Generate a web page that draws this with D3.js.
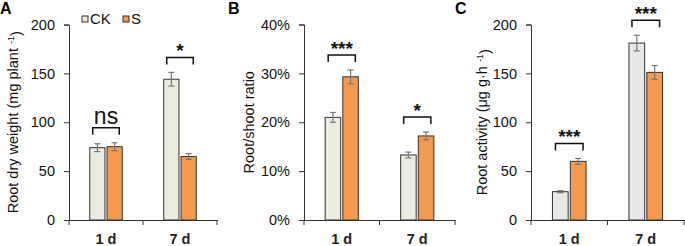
<!DOCTYPE html>
<html>
<head>
<meta charset="utf-8">
<script src="https://cdn.jsdelivr.net/npm/d3@7"></script>
<style>
  body { margin: 0; background: #fff; }
  svg { font-family: 'Liberation Sans', Arial, sans-serif; }
</style>
</head>
<body>
<div id="chart"></div>
<script>
// categories
const days = ['1 d', '7 d']
const groups = ['CK', 'S']

// A: root dry weight (mg plant-1)
const weightCK = [74, 144]
const weightS = [75, 65]
const weightCKErr = [4, 7]
const weightSErr = [4, 3]
const weightSig = ['ns', '*']
const weightTicks = [0, 50, 100, 150, 200]

// B: root/shoot ratio
const ratioCK = [0.21, 0.133]
const ratioS = [0.293, 0.172]
const ratioCKErr = [0.01, 0.006]
const ratioSErr = [0.014, 0.008]
const ratioSig = ['***', '*']
const ratioTicks = [0, 0.1, 0.2, 0.3, 0.4]

// C: root activity (ug g-1 h-1)
const activityCK = [29, 181]
const activityS = [60, 151]
const activityCKErr = [1, 8]
const activitySErr = [3, 7]
const activitySig = ['***', '***']
const activityTicks = [0, 50, 100, 150, 200]

const width = 685
const height = 246

const svg = d3.select('#chart').append('svg')
  .attr('width', width)
  .attr('height', height)

const panels = [
  {
    letter: 'A', left: 69, right: 217, lx: 0, labelX: 13,
    ck: weightCK, s: weightS, ckErr: weightCKErr, sErr: weightSErr, sig: weightSig,
    ticks: weightTicks, max: 200, fmt: d => d, ckFill: '#ebebdf',
    label: ['Root dry weight (mg plant ', '-1', ')'], legend: true
  },
  {
    letter: 'B', left: 304, right: 455, lx: 228, labelX: 249,
    ck: ratioCK, s: ratioS, ckErr: ratioCKErr, sErr: ratioSErr, sig: ratioSig,
    ticks: ratioTicks, max: 0.4, fmt: d3.format('.0%'), ckFill: '#ebebdf',
    label: ['Root/shoot ratio']
  },
  {
    letter: 'C', left: 531, right: 684, lx: 455, labelX: 482,
    ck: activityCK, s: activityS, ckErr: activityCKErr, sErr: activitySErr, sig: activitySig,
    ticks: activityTicks, max: 200, fmt: d => d, ckFill: '#e8e8e8',
    label: ['Root activity (μg g·h ', '-1', ')']
  }
]

const plotTop = 24.5
const plotBottom = 220
const sFill = '#f39a4e'

panels.forEach(p => {
  const g = svg.append('g')

  const x = d3.scaleBand().domain(days).range([p.left, p.right])
  const xs = d3.scaleBand().domain(groups).range([0, x.bandwidth()]).paddingInner(0.12).paddingOuter(1.2)
  const y = d3.scaleLinear().domain([0, p.max]).range([plotBottom, plotTop])

  // panel letter
  g.append('text')
    .attr('x', p.lx)
    .attr('y', 14)
    .style('font-size', '16px')
    .style('font-weight', 'bold')
    .text(p.letter)

  // y axis
  g.append('g')
    .attr('transform', `translate(${p.left},0)`)
    .call(d3.axisLeft(y).tickValues(p.ticks).tickFormat(p.fmt).tickSizeOuter(0).tickSize(5).tickPadding(9))
    .attr('font-family', null)
    .attr('font-size', null)
    .call(a => a.select('.domain').attr('stroke', '#333'))
    .call(a => a.selectAll('line').attr('stroke', '#333'))
    .call(a => a.selectAll('text').style('font-size', '14.5px').attr('fill', '#111'))

  // x axis
  g.append('g')
    .attr('transform', `translate(0,${plotBottom})`)
    .call(d3.axisBottom(x).tickSize(0).tickPadding(14))
    .attr('font-family', null)
    .attr('font-size', null)
    .call(a => a.select('.domain').attr('stroke', '#333'))
    .call(a => a.selectAll('text').style('font-size', '14.5px').style('font-weight', 'bold').attr('fill', '#222'))

  // x category separators
  const seps = [p.left, (p.left + p.right) / 2, p.right]
  g.selectAll('.sep').data(seps).enter().append('line')
    .attr('x1', d => d).attr('x2', d => d)
    .attr('y1', plotBottom).attr('y2', plotBottom + 5)
    .attr('stroke', '#333')

  // y label
  const lbl = g.append('text')
    .attr('transform', `translate(${p.labelX},${(plotTop + plotBottom) / 2}) rotate(-90)`)
    .attr('text-anchor', 'middle')
    .attr('dy', '0.35em')
    .style('font-size', '14.5px')
    .attr('fill', '#111')
  lbl.append('tspan').text(p.label[0])
  if (p.label.length > 1) {
    lbl.append('tspan').attr('dy', '-0.45em').style('font-size', '9px').text(p.label[1])
    lbl.append('tspan').attr('dy', '0.45em').text(p.label[2])
  }

  const rows = days.map((d, i) => ({
    day: d,
    bars: [
      { group: 'CK', v: p.ck[i], e: p.ckErr[i], fill: p.ckFill },
      { group: 'S', v: p.s[i], e: p.sErr[i], fill: sFill }
    ],
    sig: p.sig[i]
  }))

  rows.forEach(r => {
    const x0 = x(r.day)
    r.bars.forEach(b => {
      const bx = x0 + xs(b.group)
      g.append('rect')
        .attr('x', bx)
        .attr('y', y(b.v))
        .attr('width', xs.bandwidth())
        .attr('height', plotBottom - y(b.v))
        .attr('fill', b.fill)
        .attr('stroke', '#333')
        .attr('stroke-width', 1)
      const cx = bx + xs.bandwidth() / 2
      const err = g.append('g').attr('stroke', '#777').attr('stroke-width', 1.2)
      err.append('line').attr('x1', cx).attr('x2', cx).attr('y1', y(b.v + b.e)).attr('y2', y(b.v - b.e))
      err.append('line').attr('x1', cx - 3).attr('x2', cx + 3).attr('y1', y(b.v + b.e)).attr('y2', y(b.v + b.e))
      err.append('line').attr('x1', cx - 3).attr('x2', cx + 3).attr('y1', y(b.v - b.e)).attr('y2', y(b.v - b.e))
    })

    // significance bracket
    const peak = d3.max(r.bars, b => b.v + b.e)
    const by = y(peak) - 15
    const bx1 = x0 + xs('CK') + 3
    const bx2 = x0 + xs('S') + xs.bandwidth() - 3
    g.append('path')
      .attr('d', `M${bx1},${by + 7}V${by}H${bx2}V${by + 7}`)
      .attr('fill', 'none')
      .attr('stroke', '#111')
      .attr('stroke-width', 1.5)
    const isNs = r.sig === 'ns'
    g.append('text')
      .attr('x', (bx1 + bx2) / 2)
      .attr('y', isNs ? by - 4 : by)
      .attr('text-anchor', 'middle')
      .style('font-size', isNs ? '23px' : '19px')
      .style('font-weight', isNs ? 'normal' : 'bold')
      .attr('fill', '#111')
      .text(r.sig)
  })

  // legend
  if (p.legend) {
    const leg = g.append('g').attr('transform', 'translate(82,16)')
    const items = [
      { name: 'CK', fill: p.ckFill, x: 0 },
      { name: 'S', fill: sFill, x: 41 }
    ]
    items.forEach(it => {
      leg.append('rect')
        .attr('x', it.x).attr('y', 0)
        .attr('width', 6).attr('height', 6)
        .attr('fill', it.fill).attr('stroke', '#333')
      leg.append('text')
        .attr('x', it.x + 8).attr('y', 8)
        .style('font-size', '15px')
        .attr('fill', '#111')
        .text(it.name)
    })
  }
})
</script>
</body>
</html>
